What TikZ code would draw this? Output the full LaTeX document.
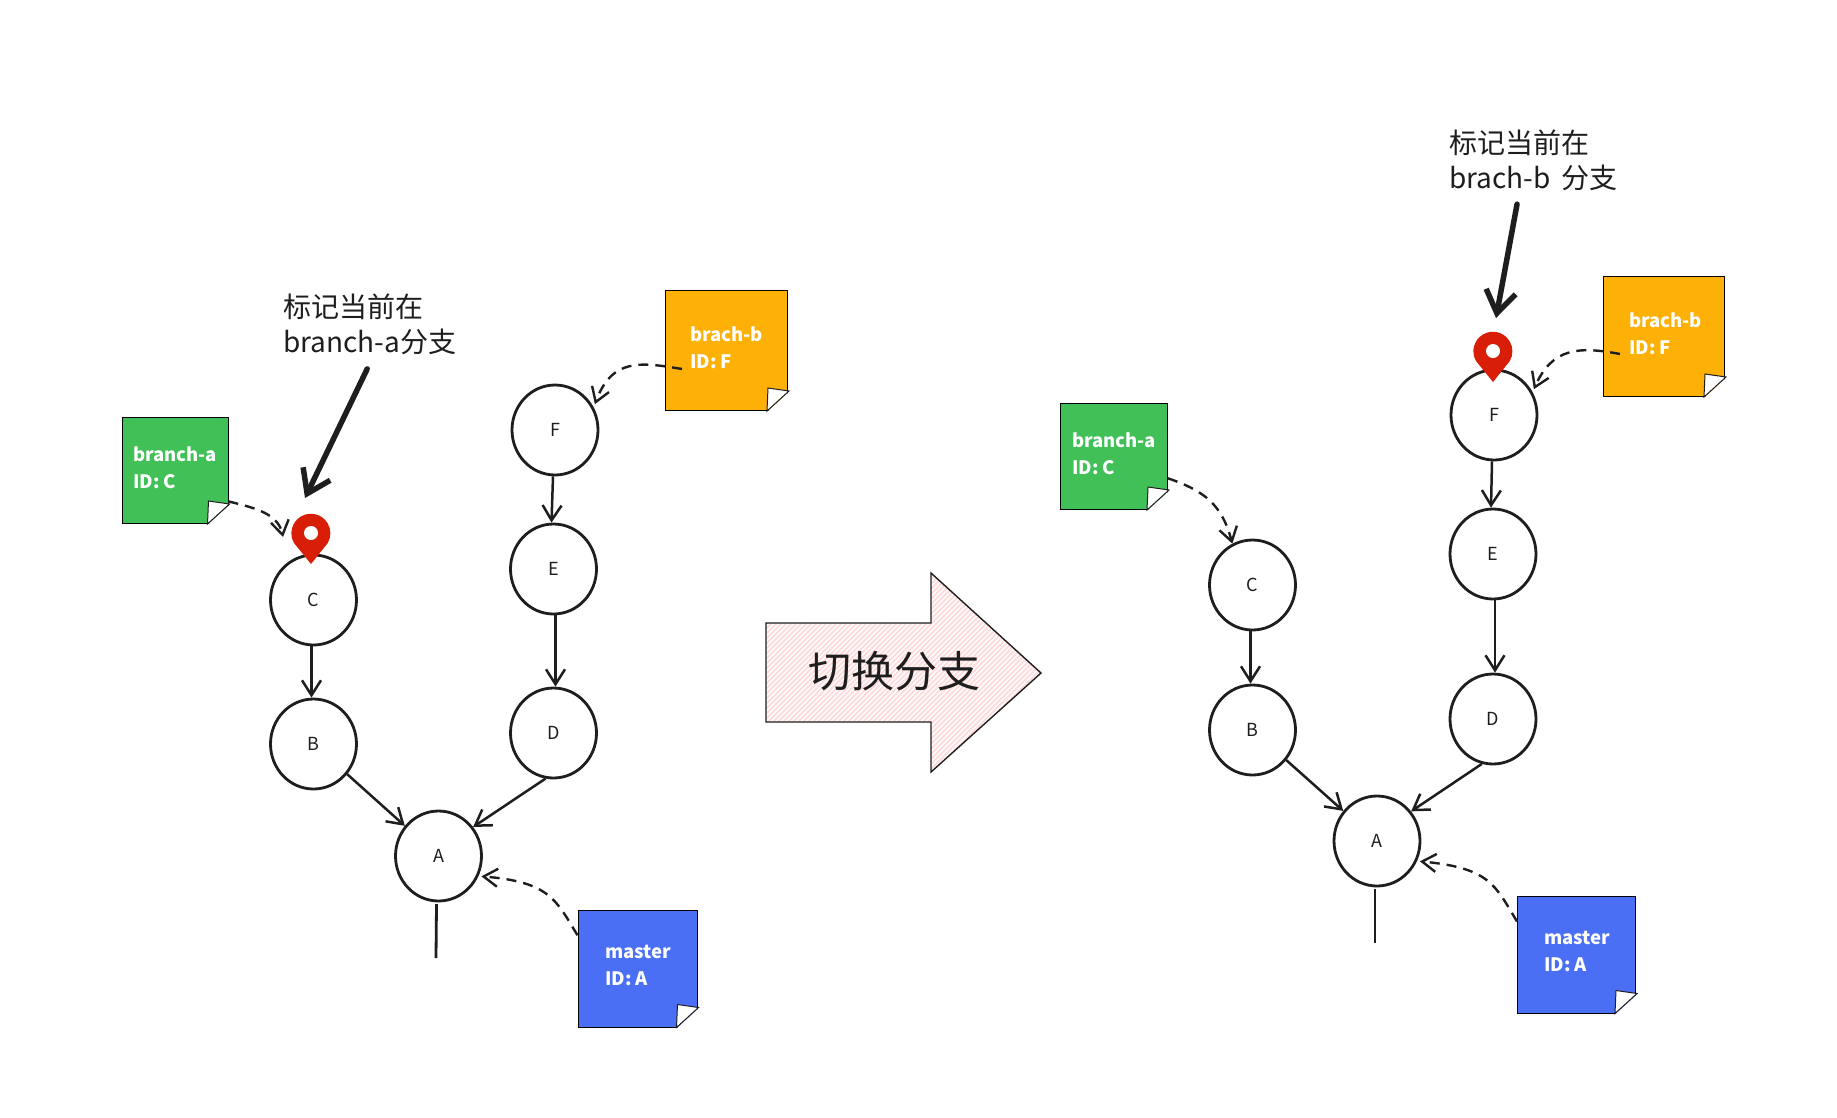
\documentclass[tikz,border=0pt]{standalone}
\usepackage{fontspec}
\setmainfont{Noto Sans CJK SC}
\usetikzlibrary{arrows.meta,shapes.geometric}
\definecolor{inkline}{HTML}{1E1E1E}
\definecolor{notegreen}{HTML}{40C057}
\definecolor{noteorange}{HTML}{FDB107}
\definecolor{noteblue}{HTML}{4A6FF5}
\definecolor{pinred}{HTML}{D81E06}
\definecolor{hatchpink}{HTML}{FFDCDC}

\begin{document}
\begin{tikzpicture}[x=1pt,y=-1pt,
  commit/.style={draw=inkline, line width=2.8pt, ellipse, minimum width=86pt, minimum height=90pt, inner sep=0pt, font=\fontsize{18}{20}\selectfont, text=inkline},
  link/.style={draw=inkline, line width=2.5pt, -{Straight Barb[length=15pt,width=19pt,line width=2.5pt]}},
  reflink/.style={draw=inkline, line width=2.4pt, dash pattern=on 10pt off 7pt, -{Straight Barb[length=14pt,width=18pt,line width=2.4pt]}},
  heavy/.style={draw=inkline, line width=5.5pt, line cap=round, -{Straight Barb[length=22pt,width=30pt,line width=5.5pt]}},
  tail/.style={draw=inkline, line width=2.8pt},
  notebox/.style={draw=black, line width=1pt, minimum width=#1, inner sep=0pt},
  notetext/.style={anchor=west, align=left, text=white, inner sep=0pt, font=\fontsize{18.5}{27}\selectfont\bfseries},
  foldline/.style={draw=inkline, line width=1pt, fill=white},
  remark/.style={anchor=north west, align=left, inner sep=0pt, text=inkline, font=\fontsize{28}{35}\selectfont},
  pinmark/.style={fill=pinred}]
\path (0,0) rectangle (1837,1117);

% left side
\node[commit] (cCa) at (313.5,600) {C};
\node[commit] (cBa) at (313.5,744) {B};
\node[commit] (cAa) at (438.5,856) {A};
\node[commit] (cDa) at (553.5,733) {D};
\node[commit] (cEa) at (553.5,569) {E};
\node[commit] (cFa) at (555,430) {F};
\coordinate (tailAa) at (436,958);
\draw[link] ([xshift=-2pt]cCa.south) -- ([xshift=-2pt]cBa.north);
\draw[link] (cBa) -- (cAa);
\draw[link] (cDa.260) -- (cAa.40);
\draw[link] ([xshift=2pt]cEa.south) -- ([xshift=2pt]cDa.north);
\draw[link] ([xshift=-2pt]cFa.south) -- ([xshift=-2pt]cEa.north);
\draw[tail] (cAa) ++(-2,48) -- (tailAa);

\node[notebox=106pt, minimum height=106pt, fill=notegreen] (noteCa) at (175,470.5) {};
\node[notebox=122pt, minimum height=120pt, fill=noteorange] (noteFa) at (726.5,350.5) {};
\node[notebox=119pt, minimum height=117pt, fill=noteblue] (noteAa) at (637.5,968.5) {};
\node[notetext] (textCa) at (133,468) {branch-a\\ID: C};
\node[notetext] (textFa) at (690,348) {brach-b\\ID: F};
\node[notetext] (textAa) at (605,965) {master\\ID: A};

\coordinate (refCa) at (283,537);
\coordinate (refFa) at (682,369);
\draw[reflink] (noteCa.-30) .. controls (250,507) and (278,512) .. (refCa);
\draw[reflink] (refFa) .. controls (640,362) and (612,358) .. ([xshift=3pt]cFa.35);
\draw[reflink] (noteAa.151) .. controls (556,900) and (550,882) .. ([xshift=3pt]cAa.-27);

\coordinate (pinCa) at (311,533);
\fill[pinmark] (pinCa) ++(-17,10) arc[start angle=150, end angle=390, radius=19.5] -- (311,564) -- cycle;
\fill[white] (pinCa) circle (7);

\node[remark] (remarkA) at (283,294) {标记当前在\\branch-a分支};
\draw[heavy, shorten <=15pt] (remarkA.south) ++(4,0) -- (305,498);

% switch arrow
\path[save path=\switchpath] (766,623) -- (931,623) -- (931,573) -- (1041,673) -- (931,772) -- (931,722) -- (766,722) -- cycle;
\begin{scope}
\clip[use path=\switchpath];
\foreach \k in {560,565,...,1045}
  \draw[hatchpink, line width=2pt] (\k,780) -- (\k+220,560);
\end{scope}
\draw[use path=\switchpath, inkline, line width=1.4pt];
\node[inner sep=0pt, text=inkline, font=\fontsize{43}{45}\selectfont] (switchText) at (894,671) {切换分支};

% right side
\node[commit] (cCb) at (1252.5,585) {C};
\node[commit] (cBb) at (1252.5,730) {B};
\node[commit] (cAb) at (1377,841) {A};
\node[commit] (cDb) at (1493,719) {D};
\node[commit] (cEb) at (1493,554) {E};
\node[commit] (cFb) at (1494,415) {F};
\coordinate (tailAb) at (1375,943);
\draw[link] ([xshift=-2pt]cCb.south) -- ([xshift=-2pt]cBb.north);
\draw[link] (cBb) -- (cAb);
\draw[link] (cDb.256) -- (cAb.41);
\draw[link] ([xshift=2pt]cEb.south) -- ([xshift=2pt]cDb.north);
\draw[link] ([xshift=-2pt]cFb.south) -- ([xshift=-2pt]cEb.north);
\draw[tail] (cAb) ++(-2,48) -- (tailAb);

\node[notebox=107pt, minimum height=106pt, fill=notegreen] (noteCb) at (1114,456.5) {};
\node[notebox=121pt, minimum height=120pt, fill=noteorange] (noteFb) at (1664,336.5) {};
\node[notebox=118pt, minimum height=117pt, fill=noteblue] (noteAb) at (1576.5,954.5) {};
\node[notetext] (textCb) at (1072,454) {branch-a\\ID: C};
\node[notetext] (textFb) at (1629,334) {brach-b\\ID: F};
\node[notetext] (textAb) at (1544,951) {master\\ID: A};

\coordinate (refFb) at (1620,354);
\draw[reflink] (noteCb.-22) .. controls (1205,491) and (1222,505) .. (cCb.116);
\draw[reflink] (refFb) .. controls (1578,346) and (1552,348) .. ([xshift=3pt]cFb.35);
\draw[reflink] (noteAb.151) .. controls (1495,885) and (1490,868) .. ([xshift=3pt]cAb.-27);

\coordinate (pinFb) at (1493,351);
\fill[pinmark] (pinFb) ++(-17,10) arc[start angle=150, end angle=390, radius=19.5] -- (1493,382) -- cycle;
\fill[white] (pinFb) circle (7);

\node[remark] (remarkB) at (1449,130) {标记当前在\\brach-b\, 分支};
\draw[heavy, shorten <=13pt] (remarkB.south) ++(-14,0) -- (1496,318);

% folded corners
\foreach \n in {noteCa,noteFa,noteAa,noteCb,noteFb,noteAb} {
  \fill[white] ([shift={(-21,1)}]\n.south east) -- ([shift={(2,1)}]\n.south east) -- ([shift={(2,-20)}]\n.south east) -- cycle;
  \draw[foldline] ([shift={(-21,0)}]\n.south east) -- ([shift={(1,-20)}]\n.south east) -- ([shift={(-20,-23)}]\n.south east) -- cycle;
}
\end{tikzpicture}
\end{document}
